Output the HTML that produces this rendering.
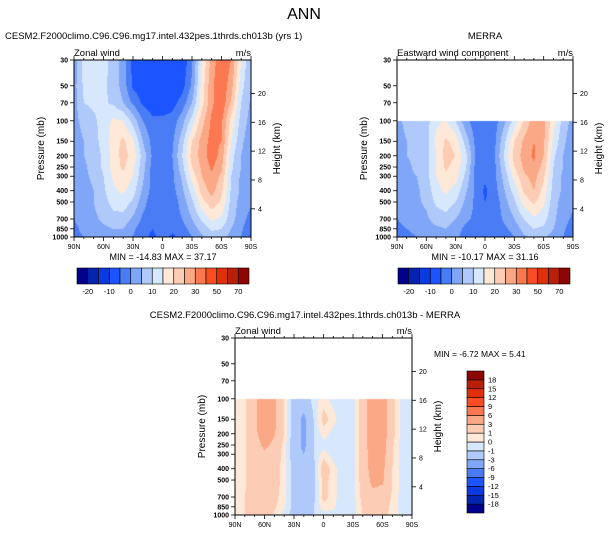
<!DOCTYPE html>
<html><head><meta charset="utf-8">
<style>
body{margin:0;background:#fff;width:609px;height:535px;overflow:hidden;font-family:"Liberation Sans",sans-serif;}
#root{position:relative;width:609px;height:535px;}
canvas{position:absolute;}
svg{position:absolute;left:0;top:0;}
</style></head>
<body><div id="root">
<canvas id="c1" width="177" height="177" style="left:74px;top:60px"></canvas>
<canvas id="c2" width="176" height="177" style="left:397px;top:60px"></canvas>
<canvas id="c3" width="177" height="177" style="left:235px;top:338px"></canvas>
<svg id="s" width="609" height="535"></svg>
</div>
<script>
const lats=[90,80,70,60,50,40,30,20,10,0,-10,-20,-30,-40,-50,-60,-70,-80,-90];
const levelsFull=[30,50,70,100,150,200,250,300,400,500,700,850,1000];
const levelsObs=[100,150,200,250,300,400,500,700,850,1000];
const modelU=[
[2,12,13,12,8,3,-7,-9,-10,-10,-10,-9,-1,15,27,34,30,15,5],
[3,11,12,11,8,3,-6,-8,-9,-9,-9,-7,1,17,29,34,27,12,5],
[3,10,11,11,9,5,-1,-6,-8,-8,-7,-3,5,18,29,34,24,10,4],
[3,7,9,12,16,15,8,0,-4,-4,-3,3,12,23,31,31,18,8,3],
[2,5,8,12,18,21,16,5,-2,-4,-1,8,20,27,32,30,15,6,2],
[2,5,7,11,17,22,18,8,-1,-4,0,10,22,27,33,28,12,5,2],
[2,4,7,11,17,21,16,7,-2,-4,-1,8,20,26,31,26,11,5,2],
[2,4,6,10,16,19,15,6,-2,-4,-1,6,17,25,29,24,10,4,2],
[1,3,5,9,14,16,12,4,-2,-4,-2,4,12,22,27,21,9,4,1],
[1,3,5,8,12,13,9,2,-3,-4,-3,2,9,18,23,19,8,3,1],
[0,2,4,6,8,8,4,-1,-3,-3,-3,0,5,11,16,14,7,2,-2],
[-1,1,2,4,5,5,1,-3,-5,-3,-4,-2,2,7,11,10,5,1,-4],
[-1,0,1,2,3,3,0,-4,-6,-3,-6,-4,0,4,7,7,3,0,-6]];
const merraU=[
[3,7,7,8,14,15,10,2,-3,-4,-2,4,12,21,28,26,17,8,3],
[2,5,6,8,16,21,18,8,-1,-5,-1,9,20,26,30,26,14,6,2],
[2,5,6,8,15,22,20,12,0,-4,0,11,22,27,31,25,11,5,2],
[2,4,6,8,15,21,18,11,-1,-3,-1,9,20,26,29,23,10,5,2],
[2,4,5,8,15,19,17,9,-1,-4,-1,7,17,24,27,21,9,4,2],
[1,3,4,7,13,16,13,6,-1,-6,-2,5,12,21,25,18,8,4,1],
[1,3,4,6,11,13,10,4,-1,-5,-3,3,9,17,21,16,7,3,1],
[0,1,3,4,7,8,5,1,-1,-4,-3,1,5,10,14,12,6,2,-1],
[-1,0,1,3,4,5,2,-1,-4,-3,-4,-1,2,7,10,9,5,1,-3],
[-1,-1,0,1,3,3,1,-2,-5,-2,-5,-3,0,4,6,6,3,0,-5]];
const diffU=[
[0.5,0.8,2.5,4.5,3.5,1,-2,-2,-0.5,0.5,-0.5,-1,-0.5,2,4.5,4.5,1.5,-0.5,-0.5],
[0.5,0.8,2.5,4.5,3.5,1,-2,-3.5,-1,1.5,0.5,-1,-0.5,2,4.5,4.5,1.5,-0.5,-0.5],
[0.5,0.8,2.5,4.2,3.2,1,-2,-3.5,-1,0.5,-0.5,-1,-0.5,2,4.5,4.2,1.5,-0.5,-0.5],
[0.5,0.8,2,3.5,2.5,0.5,-2,-3.5,-1,-0.5,-0.5,-1,-0.5,2,4.2,4,1.2,-0.5,-0.5],
[0.5,0.8,2,2.5,2,0.5,-2,-3,-1,0.5,-0.5,-1,-0.5,2,4,3.8,1.2,-0.5,-0.5],
[0.5,0.8,2,2.5,1.8,0.4,-1.5,-2,-1.5,2,0.5,-1,-0.5,2,3.8,3.5,1,-0.5,-0.5],
[0.5,0.8,2,2.5,1.8,0.4,-1.5,-2,-1.5,1.5,0.5,-1,-0.5,1.8,3.5,3.3,1,-0.5,-0.5],
[0.5,1,2,2.5,1.5,0.3,-1.5,-2,-1.5,1.5,0.5,-1,-0.5,1.5,2.5,2.2,0.8,-0.5,-0.5],
[0.5,1,1.8,2,1.2,0.2,-1.5,-2,-1,0.5,0.3,-1,-0.5,1.2,2,1.8,0.6,-0.5,-0.5],
[0.5,1,1.8,1.8,0.8,-0.5,-1.5,-2,-1,-0.5,-0.5,-1,-0.5,1,1.8,1.6,0.5,-0.3,-0.5]];
const windBounds=[-20,-15,-10,-5,0,5,10,15,20,25,30,40,50,60,70];
const windLabels=["-20","-10","0","10","20","30","50","70"];
const diffBounds=[-18,-15,-12,-9,-6,-3,-1,0,1,3,6,9,12,15,18];
const diffLabels=["-18","-15","-12","-9","-6","-3","-1","0","1","3","6","9","12","15","18"];
const pLabels=[30,50,70,100,150,200,250,300,400,500,700,850,1000];
const kmLabels=[4,8,12,16,20];
const latTickLabels=["90N","60N","30N","0","30S","60S","90S"];
const palette=["#00008c","#0424b0","#0a3ae0","#1c55ff","#4a7df5","#80a6f7","#b0c9fb","#d8e8fc","#fee8d8","#fdccb4","#fba886","#fb7850","#f84c22","#e0300a","#b8200a","#8c0606"];

function yOf(p,top,h){return top+h*Math.log(p/30)/Math.log(1000/30);}
function drawField(id,levels,grid,bounds){
  const cv=document.getElementById(id),ctx=cv.getContext('2d');
  const W=cv.width,H=cv.height,img=ctx.createImageData(W,H);
  const lnTop=Math.log(30),lnSpan=Math.log(1000/30);
  const lnL=levels.map(p=>Math.log(p));
  const rgb=palette.map(c=>[parseInt(c.substr(1,2),16),parseInt(c.substr(3,2),16),parseInt(c.substr(5,2),16)]);
  for(let py=0;py<H;py++){
    const lp=lnTop+(py+0.5)/H*lnSpan;
    if(lp<lnL[0]-1e-6) continue;
    let k=0;while(k<lnL.length-2&&lp>lnL[k+1])k++;
    let fy=(lp-lnL[k])/(lnL[k+1]-lnL[k]);fy=Math.max(0,Math.min(1,fy));
    for(let px=0;px<W;px++){
      const lf=(px+0.5)/W*(lats.length-1);
      let i=Math.min(lats.length-2,Math.floor(lf));const fx=lf-i;
      const v=(grid[k][i]*(1-fx)+grid[k][i+1]*fx)*(1-fy)+(grid[k+1][i]*(1-fx)+grid[k+1][i+1]*fx)*fy;
      let b=0;while(b<bounds.length&&v>bounds[b])b++;
      const c=rgb[b],o=(py*W+px)*4;
      img.data[o]=c[0];img.data[o+1]=c[1];img.data[o+2]=c[2];img.data[o+3]=255;
    }
  }
  ctx.putImageData(img,0,0);
}
drawField('c1',levelsFull,modelU,windBounds);
drawField('c2',levelsObs,merraU,windBounds);
drawField('c3',levelsObs,diffU,diffBounds);

const S=document.getElementById('s'),NS='http://www.w3.org/2000/svg';
function el(t,a,txt){const e=document.createElementNS(NS,t);for(const k in a)e.setAttribute(k,a[k]);if(txt!==undefined)e.textContent=txt;S.appendChild(e);return e;}
function txt(x,y,s,size,anchor,name,extra){const e=el('text',Object.assign({x:x,y:y,'font-size':size,'text-anchor':anchor||'start','font-family':'Liberation Sans, sans-serif',fill:'#000'},extra||{}),s);

return e;}

function axes(L,T,W,H,pre,left){
  const r=el('rect',{x:L,y:T,width:W,height:H,fill:'none',stroke:'#000','stroke-width':1});
  
  
  for(let d=0;d<=18;d++){const x=L+W*d/18,len=d%3==0?4:2;
    el('line',{x1:x,y1:T+H,x2:x,y2:T+H+len,stroke:'#000','stroke-width':0.8});
    el('line',{x1:x,y1:T,x2:x,y2:T-len,stroke:'#000','stroke-width':0.8});}
  latTickLabels.forEach((s,i)=>txt(L+W*i/6,T+H+12,s,7,'middle',pre+'-x-tick-label'));
  pLabels.forEach(p=>{const y=yOf(p,T,H);el('line',{x1:L,y1:y,x2:L-4,y2:y,stroke:'#000','stroke-width':0.8});
    txt(L-6,y+2.5,String(p),7,'end',pre+'-y-tick-label',{'font-weight':'bold'});});
  kmLabels.forEach(k=>{const p=1013*Math.exp(-k/7);const y=yOf(p,T,H);
    el('line',{x1:L+W,y1:y,x2:L+W+4,y2:y,stroke:'#000','stroke-width':0.8});
    txt(L+W+7,y+2.5,String(k),7,'start',pre+'-km-tick-label');});
  txt(L-30,T+H/2,'Pressure (mb)',10,'middle',pre+'-y-axis-title',{transform:`rotate(-90 ${L-30} ${T+H/2})`});
  txt(L+W+29,T+H/2,'Height (km)',10,'middle',pre+'-right-axis-title',{transform:`rotate(-90 ${L+W+29} ${T+H/2})`});
  txt(L,T-4,left,9.5,'start',pre+'-variable-label');
  txt(L+W,T-4,'m/s',9.5,'end',pre+'-units-label');
}
function hbar(L,T,W,H,pre){
  const n=palette.length,bw=W/n;
  palette.forEach((c,i)=>{const r=el('rect',{x:L+i*bw,y:T,width:bw,height:H,fill:c,stroke:'#000','stroke-width':0.6});
    
    });
  windLabels.forEach((s,i)=>txt(L+bw*(1+2*i),T+H+10,s,7.5,'middle',pre+'-colorbar-label'));
}
txt(304,19,'ANN',16,'middle','figure-title');
txt(5,39,'CESM2.F2000climo.C96.C96.mg17.intel.432pes.1thrds.ch013b (yrs 1)',9.5,'start','model-panel-title');
axes(74,60,177,177,'model','Zonal wind');
txt(163,260,'MIN = -14.83  MAX =  37.17',9,'middle','model-min-max');
hbar(77,268,172,16,'model');

txt(485,39,'MERRA',9.5,'middle','merra-panel-title');
axes(397,60,176,177,'merra','Eastward wind component');
txt(485,260,'MIN = -10.17  MAX =  31.16',9,'middle','merra-min-max');
hbar(398,268,172,16,'merra');

txt(305,318,'CESM2.F2000climo.C96.C96.mg17.intel.432pes.1thrds.ch013b - MERRA',9.5,'middle','diff-panel-title');
axes(235,338,177,177,'diff','Zonal wind');
txt(434,357,'MIN =  -6.72  MAX =   5.41',8.5,'start','diff-min-max');
(function(){const L=467,T=371,W=17,H=142,n=palette.length,bh=H/n;
  palette.forEach((c,i)=>{const r=el('rect',{x:L,y:T+H-(i+1)*bh,width:W,height:bh,fill:c,stroke:'#000','stroke-width':0.6});
    
    });
  diffLabels.forEach((s,i)=>txt(L+W+4,T+H-(i+1)*bh+2.5,s,7.5,'start','diff-colorbar-label'));
})();
</script></body></html>
